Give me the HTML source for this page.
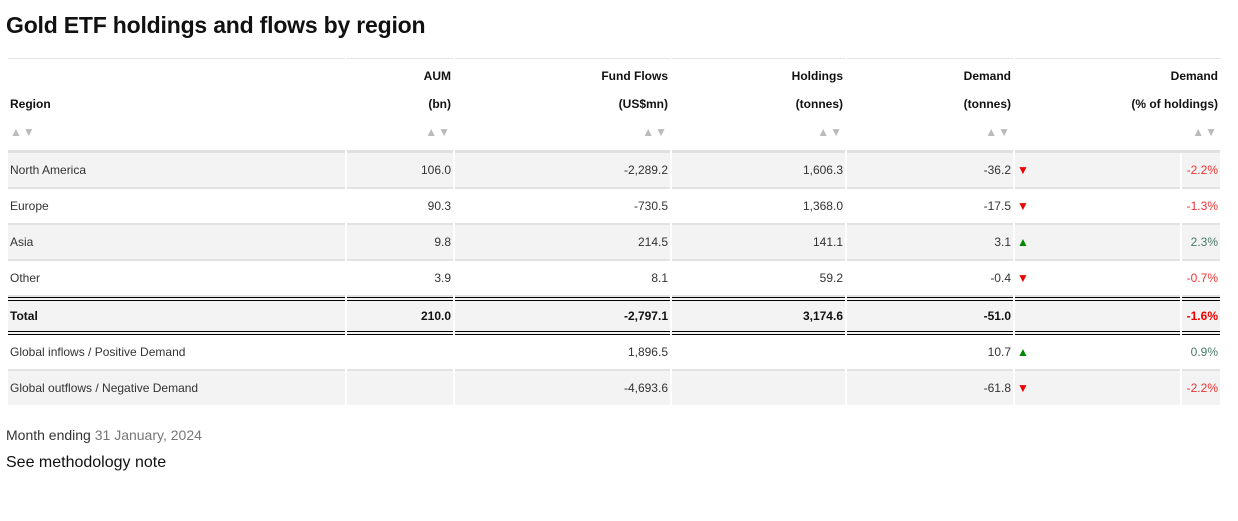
<!DOCTYPE html>
<html><head><meta charset="utf-8"><style>
body{margin:0;background:#fff;font-family:"Liberation Sans",sans-serif;color:#333;width:1238px;height:521px;overflow:hidden;position:relative}
h1{position:absolute;left:6px;top:12px;margin:0;font-size:23px;font-weight:600;color:#111;letter-spacing:-0.2px}
table{position:absolute;left:6px;top:58px;border-collapse:separate;border-spacing:2px 0;font-size:12px}
th{border-top:1px solid #e3e3e3;border-bottom:3px solid #e0e0e0;height:88px;vertical-align:top;text-align:right;font-weight:bold;color:#111;padding:3px 2px 0;line-height:28px}
th.l{text-align:left}
.s{color:#bbb;font-size:12px;letter-spacing:1px;font-weight:normal}
td{height:34px;border-bottom:2px solid #e2e2e2;text-align:right;padding:0 2px;white-space:nowrap}
td.l{text-align:left}
tr.g td{background:#f3f3f3}
tr.t td{border-top:4px double #000;border-bottom:4px double #000;height:30px;font-weight:bold;color:#111}
tr.t td.r{color:#e00}
.up{color:#080;font-size:12px}.dn{color:#e00;font-size:12px}
.r{color:#e33}.gr{color:#4a7a6a}
td.a{text-align:left}
.f1{position:absolute;left:6px;top:427px;font-size:14px}
.f2{position:absolute;left:6px;top:454px;font-size:16px;color:#111}
</style></head><body>
<h1>Gold ETF holdings and flows by region</h1>
<table>
<colgroup><col style="width:337px"><col style="width:106px"><col style="width:215px"><col style="width:173px"><col style="width:166px"><col style="width:165px"><col style="width:38px"></colgroup>
<tr><th class="l"><br>Region<br><span class="s">▲▼</span></th><th>AUM<br>(bn)<br><span class="s">▲▼</span></th><th>Fund Flows<br>(US$mn)<br><span class="s">▲▼</span></th><th>Holdings<br>(tonnes)<br><span class="s">▲▼</span></th><th>Demand<br>(tonnes)<br><span class="s">▲▼</span></th><th colspan="2">Demand<br>(% of holdings)<br><span class="s">▲▼</span></th></tr>
<tr class="g"><td class="l">North America</td><td>106.0</td><td>-2,289.2</td><td>1,606.3</td><td>-36.2</td><td class="a"><span class="dn">▼</span></td><td class="r">-2.2%</td></tr>
<tr><td class="l">Europe</td><td>90.3</td><td>-730.5</td><td>1,368.0</td><td>-17.5</td><td class="a"><span class="dn">▼</span></td><td class="r">-1.3%</td></tr>
<tr class="g"><td class="l">Asia</td><td>9.8</td><td>214.5</td><td>141.1</td><td>3.1</td><td class="a"><span class="up">▲</span></td><td class="gr">2.3%</td></tr>
<tr><td class="l">Other</td><td>3.9</td><td>8.1</td><td>59.2</td><td>-0.4</td><td class="a"><span class="dn">▼</span></td><td class="r">-0.7%</td></tr>
<tr class="g t"><td class="l">Total</td><td>210.0</td><td>-2,797.1</td><td>3,174.6</td><td>-51.0</td><td></td><td class="r">-1.6%</td></tr>
<tr><td class="l">Global inflows / Positive Demand</td><td></td><td>1,896.5</td><td></td><td>10.7</td><td class="a"><span class="up">▲</span></td><td class="gr">0.9%</td></tr>
<tr class="g"><td class="l" style="border-bottom:none">Global outflows / Negative Demand</td><td style="border-bottom:none"></td><td style="border-bottom:none">-4,693.6</td><td style="border-bottom:none"></td><td style="border-bottom:none">-61.8</td><td class="a" style="border-bottom:none"><span class="dn">▼</span></td><td class="r" style="border-bottom:none">-2.2%</td></tr>
</table>
<div class="f1">Month ending <span style="color:#777">31 January, 2024</span></div>
<div class="f2">See methodology note</div>
</body></html>
